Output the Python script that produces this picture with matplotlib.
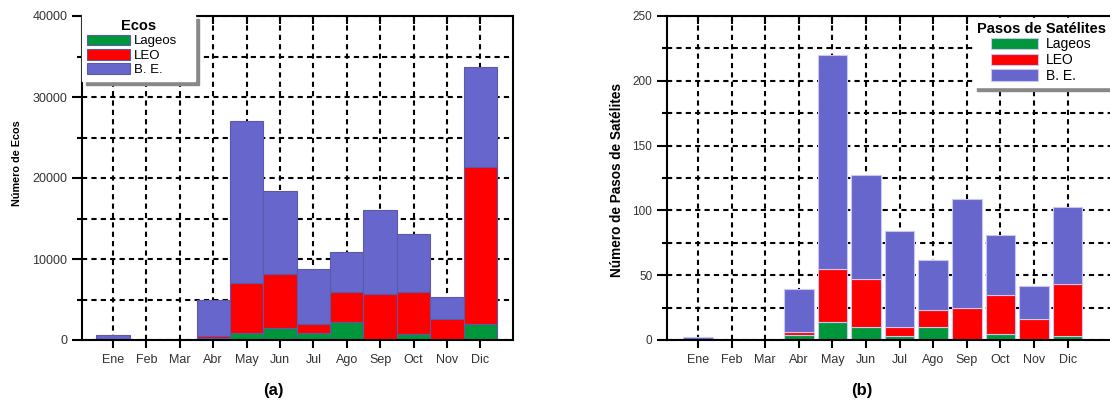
import numpy as np
import matplotlib
matplotlib.use('Agg')
import matplotlib.pyplot as plt
import matplotlib.lines as mlines
from matplotlib.ticker import MultipleLocator

plt.rcParams['font.family'] = ['Liberation Sans', 'DejaVu Sans']

meses = ['Ene', 'Feb', 'Mar', 'Abr', 'May', 'Jun', 'Jul', 'Ago', 'Sep', 'Oct', 'Nov', 'Dic']

# Ecos (a)
ecos_lageos = [0, 0, 0, 250, 900, 1480, 860, 2220, 0, 700, 0, 1940]
ecos_leo = [0, 0, 0, 250, 6100, 6720, 1080, 3750, 5640, 5190, 2550, 19380]
ecos_be = [650, 0, 0, 4400, 20000, 10250, 6830, 4860, 10450, 7240, 2760, 12430]

# Pasos de satelites (b)
pasos_lageos = [0, 0, 0, 4, 14, 10, 3, 10, 0, 5, 1, 3]
pasos_leo = [0, 0, 0, 2, 41, 37, 7, 13, 25, 30, 15, 40]
pasos_be = [2, 0, 0, 33, 165, 80, 74, 39, 84, 46, 26, 60]

series_names = ['Lageos', 'LEO', 'B. E.']
colors = ['#00963C', '#FF0000', '#6666CC']

fig = plt.figure(figsize=(11.1, 4.03), dpi=100)
ax1 = fig.add_axes([82 / 1110, 63 / 403, 431 / 1110, 324 / 403])
ax2 = fig.add_axes([667 / 1110, 63 / 403, 443 / 1110, 324 / 403])

x = np.arange(len(meses))


def draw_panel(ax, data, width, edge, ymax, major, ylabel, ylabel_size, tick_size):
    bottom = np.zeros(len(meses))
    for vals, name, c in zip(data, series_names, colors):
        ax.bar(x, vals, width, bottom=bottom, color=c, edgecolor=edge,
               linewidth=0.8, label=name, zorder=2)
        bottom = bottom + np.array(vals)
    ax.set_axisbelow(True)
    ax.set_ylim(0, ymax)
    ax.yaxis.set_major_locator(MultipleLocator(major))
    ax.yaxis.set_minor_locator(MultipleLocator(major / 2))
    ax.set_xticks(x)
    ax.set_xticklabels(meses, fontsize=9, color='#333333')
    ax.tick_params(axis='y', labelsize=tick_size, labelcolor='#333333')
    ax.tick_params(axis='x', which='major', direction='out', length=6, width=1.5, pad=4,
                   top=True)
    ax.tick_params(axis='y', which='major', direction='out', length=7, width=1.5)
    ax.tick_params(axis='y', which='minor', direction='out', length=3.5, width=1.5)
    # top ticks point inward, bottom ticks outward
    for t in ax.xaxis.get_major_ticks():
        t.tick2line.set_marker(mlines.TICKDOWN)
    ax.grid(True, which='both', axis='y', color='black', linestyle=(0, (2.5, 2)), linewidth=1.5)
    ax.grid(True, which='major', axis='x', color='black', linestyle=(0, (2.5, 2)), linewidth=1.5)
    for s in ax.spines.values():
        s.set_linewidth(1.5)
    ax.set_ylabel(ylabel, fontsize=ylabel_size, fontweight='bold')


draw_panel(ax1, [ecos_lageos, ecos_leo, ecos_be], 1.0, '#5a5aa8', 40000, 10000,
           'Número de Ecos', 7.8, 9)
ax1.set_xlim(-0.93, 11.98)
ax1.yaxis.set_label_coords(-0.139, 0.546)

draw_panel(ax2, [pasos_lageos, pasos_leo, pasos_be], 0.88, '#c8c8f0', 250, 50,
           'Número de Pasos de Satélites', 9.8, 8.5)
ax2.set_xlim(-0.92, 12.26)
ax2.spines['right'].set_visible(False)
ax2.yaxis.set_label_coords(-0.097, 0.495)

shadow = {'ox': 3, 'oy': -3, 'facecolor': '#888888', 'edgecolor': '#888888', 'alpha': 1}

leg1 = ax1.legend(title='Ecos', loc='upper left', bbox_to_anchor=(0.0, 0.0, 0.262, 1.005),
                  mode='expand', borderaxespad=0, fontsize=9.5,
                  title_fontproperties={'weight': 'bold', 'size': 10.5},
                  handlelength=3.3, handleheight=0.85, labelspacing=0.12, handletextpad=0.3,
                  borderpad=0.35, fancybox=False, frameon=True, framealpha=1,
                  edgecolor='white', shadow=shadow)
leg1.set_zorder(10)

leg2 = ax2.legend(title='Pasos de Satélites', loc='upper right', bbox_to_anchor=(1.0, 0.995),
                  borderaxespad=0, fontsize=10, title_fontproperties={'weight': 'bold', 'size': 10.5},
                  handlelength=3.4, handleheight=0.85, labelspacing=0.12, handletextpad=0.6,
                  borderpad=0.3, fancybox=False, frameon=True, framealpha=1,
                  edgecolor='white', shadow=shadow)
leg2.set_zorder(10)

fig.text(273 / 1110, 1 - 391 / 403, '(a)', fontsize=12, fontweight='bold', ha='center', va='center')
fig.text(862 / 1110, 1 - 391 / 403, '(b)', fontsize=12, fontweight='bold', ha='center', va='center')

plt.savefig('out.png', dpi=100)
